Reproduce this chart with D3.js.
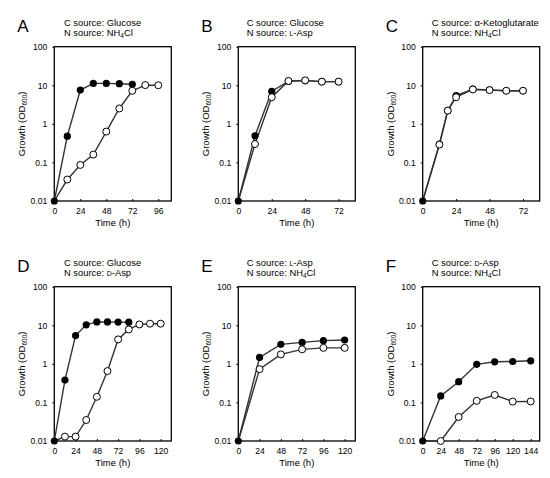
<!DOCTYPE html>
<html>
<head>
<meta charset="utf-8">
<script src="https://cdn.jsdelivr.net/npm/d3@7"></script>
<style>
  body { margin: 0; background: #fff; }
  svg text { font-family: "Liberation Sans", Arial, sans-serif; fill: #000; }
</style>
</head>
<body>
<script>
var w = 550;
var h = 478;

// panel headings
var panelLetters = ["A", "B", "C", "D", "E", "F"];
var cSources = ["Glucose", "Glucose", "α-Ketoglutarate", "Glucose", "L-Asp", "D-Asp"];
var nSources = ["NH4Cl", "L-Asp", "NH4Cl", "D-Asp", "NH4Cl", "NH4Cl"];

// x axis (time, h) per panel
var xMax = [108, 84, 84, 132, 132, 156];
var xTicks = [
    [0, 24, 48, 72, 96],
    [0, 24, 48, 72],
    [0, 24, 48, 72],
    [0, 24, 48, 72, 96, 120],
    [0, 24, 48, 72, 96, 120],
    [0, 24, 48, 72, 96, 120, 144]
];
var yTicks = [0.01, 0.1, 1, 10, 100];

// filled circles: time and OD600
var filledTime = [
    [0, 12, 24, 36, 48, 60, 72],
    [0, 12, 24, 36, 48, 60, 72],
    [0, 12, 18, 24, 36, 48, 60, 72],
    [0, 12, 24, 36, 48, 60, 72, 84],
    [0, 24, 48, 72, 96, 120],
    [0, 24, 48, 72, 96, 120, 144]
];
var filledOD = [
    [0.01, 0.48, 7.5, 11.2, 11.2, 11, 10.6],
    [0.01, 0.49, 7.0, 12.6, 13.2, 12.4, 12.4],
    [0.01, 0.3, 2.2, 5.4, 7.9, 7.6, 7.2, 7.2],
    [0.01, 0.38, 5.4, 10.3, 12.2, 12.2, 12.1, 12],
    [0.01, 1.47, 3.2, 3.6, 4.0, 4.15],
    [0.01, 0.147, 0.345, 0.97, 1.13, 1.15, 1.2]
];

// open circles: time and OD600
var openTime = [
    [0, 12, 24, 36, 48, 60, 72, 84, 96],
    [0, 12, 24, 36, 48, 60, 72],
    [0, 12, 18, 24, 36, 48, 60, 72],
    [0, 12, 24, 36, 48, 60, 72, 84, 96, 108, 120],
    [0, 24, 48, 72, 96, 120],
    [0, 24, 48, 72, 96, 120, 144]
];
var openOD = [
    [0.01, 0.036, 0.086, 0.16, 0.63, 2.5, 7.2, 10.1, 10],
    [0.01, 0.3, 4.9, 12.9, 13.4, 12.4, 12.4],
    [0.01, 0.29, 2.2, 4.9, 7.8, 7.5, 7.2, 7.2],
    [0.01, 0.013, 0.013, 0.035, 0.14, 0.65, 4.3, 7.8, 10.5, 11, 11],
    [0.01, 0.73, 1.76, 2.38, 2.6, 2.6],
    [0.01, 0.01, 0.042, 0.11, 0.156, 0.105, 0.106]
];

// plot boxes
var colLeft = [54.3, 238.3, 422.7];
var plotW = 117;
var rowTop = [46.7, 286.7];
var plotH = 154.3;

var svg = d3.select("body")
    .append("svg")
    .attr("width", w)
    .attr("height", h);

// write a heading that may contain a subscript (NH4Cl) or small capital (L-, D-)
function richText(sel, str) {
    if (str == "NH4Cl") {
        sel.append("tspan").text("NH");
        sel.append("tspan").attr("font-size", "6.5px").attr("dy", 2).text("4");
        sel.append("tspan").attr("dy", -2).text("Cl");
    } else if (str.indexOf("L-") == 0 || str.indexOf("D-") == 0) {
        sel.append("tspan").attr("font-size", "7px").text(str.charAt(0));
        sel.append("tspan").text(str.slice(1));
    } else {
        sel.append("tspan").text(str);
    }
}

function drawPanel(p) {
    var col = p % 3;
    var row = Math.floor(p / 3);
    var x0 = colLeft[col];
    var y0 = rowTop[row];

    var g = svg.append("g")
        .attr("transform", "translate(" + x0 + "," + y0 + ")");

    var x = d3.scaleLinear().domain([0, xMax[p]]).range([0, plotW]);
    var y = d3.scaleLog().domain([0.01, 100]).range([plotH, 0]);

    // y axis
    var yAxis = g.append("g")
        .call(d3.axisLeft(y)
            .tickValues(yTicks)
            .tickSize(2)
            .tickPadding(5)
            .tickFormat(function(d){ return d >= 1 ? d3.format("d")(d) : String(d); }));
    yAxis.select(".domain").remove();
    yAxis.selectAll("text").attr("font-size", "8.6px").attr("font-family", null);
    yAxis.selectAll("line").attr("stroke-width", 1);

    // x axis, ticks point inward
    var xAxis = g.append("g")
        .attr("transform", "translate(0," + plotH + ")")
        .call(d3.axisBottom(x)
            .tickValues(xTicks[p])
            .tickSize(-2)
            .tickPadding(7));
    xAxis.select(".domain").remove();
    xAxis.selectAll("text").attr("font-size", "8.6px").attr("font-family", null);
    xAxis.selectAll("line").attr("stroke-width", 1);

    // frame
    g.append("rect")
        .attr("width", plotW)
        .attr("height", plotH)
        .attr("fill", "none")
        .attr("stroke", "#000")
        .attr("stroke-width", 1.3);

    var line = d3.line()
        .x(function(d){ return x(d[0]); })
        .y(function(d){ return y(d[1]); });

    var filled = d3.zip(filledTime[p], filledOD[p]);
    var open = d3.zip(openTime[p], openOD[p]);

    g.append("path").datum(filled)
        .attr("d", line)
        .attr("fill", "none")
        .attr("stroke", "#333")
        .attr("stroke-width", 1.4);
    g.append("path").datum(open)
        .attr("d", line)
        .attr("fill", "none")
        .attr("stroke", "#333")
        .attr("stroke-width", 1.4);

    g.selectAll("circle.filled")
        .data(filled)
        .enter()
        .append("circle")
        .attr("class", "filled")
        .attr("cx", function(d){ return x(d[0]); })
        .attr("cy", function(d){ return y(d[1]); })
        .attr("r", 3.6)
        .attr("fill", "#000");

    // the first open point sits under the filled one at t = 0
    g.selectAll("circle.open")
        .data(open.slice(1))
        .enter()
        .append("circle")
        .attr("class", "open")
        .attr("cx", function(d){ return x(d[0]); })
        .attr("cy", function(d){ return y(d[1]); })
        .attr("r", 3.5)
        .attr("fill", "#fff")
        .attr("stroke", "#000")
        .attr("stroke-width", 1);

    // axis titles
    g.append("text")
        .attr("x", plotW / 2)
        .attr("y", plotH + 25)
        .attr("text-anchor", "middle")
        .attr("font-size", "9.5px")
        .text("Time (h)");

    var yl = g.append("text")
        .attr("transform", "translate(" + (-29) + "," + (plotH / 2) + ") rotate(-90)")
        .attr("text-anchor", "middle")
        .attr("font-size", "9.5px");
    yl.append("tspan").text("Growth (OD");
    yl.append("tspan").attr("font-size", "6.5px").attr("dy", 2).text("600");
    yl.append("tspan").attr("dy", -2).text(")");

    // panel letter
    g.append("text")
        .attr("x", -37)
        .attr("y", -15)
        .attr("font-size", "17px")
        .text(panelLetters[p]);

    // headings
    var hx = col == 2 ? 9 : (col == 1 ? 8.4 : 9.7);
    var t1 = g.append("text")
        .attr("x", hx)
        .attr("y", -21)
        .attr("font-size", "9.4px");
    t1.append("tspan").text("C source: ");
    richText(t1, cSources[p]);

    var t2 = g.append("text")
        .attr("x", hx)
        .attr("y", -10.5)
        .attr("font-size", "9.4px");
    t2.append("tspan").text("N source: ");
    richText(t2, nSources[p]);
}

for (var p = 0; p < 6; p++) {
    drawPanel(p);
}
</script>
</body>
</html>
